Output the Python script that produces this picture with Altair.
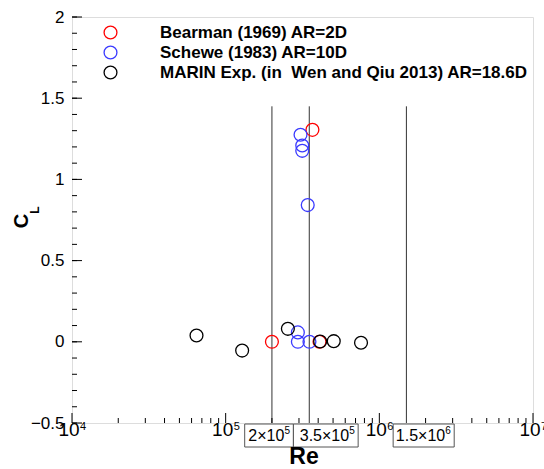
import altair as alt
import pandas as pd

# ---- data ----
series_names = ["Bearman (1969) AR=2D", "Schewe (1983) AR=10D",
                "MARIN Exp. (in\u00a0 Wen and Qiu 2013) AR=18.6D"]
series_colors = ["#ff0000", "#3a3aff", "#000000"]

bearman_re = [2.0e5, 3.67e5, 4.08e5]
bearman_cl = [0.0, 1.305, 0.0]
schewe_re = [3.07e5, 3.15e5, 3.15e5, 3.42e5, 2.95e5, 2.95e5, 3.51e5]
schewe_cl = [1.275, 1.209, 1.176, 0.842, 0.058, 0.0, 0.0]
marin_re = [6.46e4, 1.28e5, 2.54e5, 4.12e5, 5.05e5, 7.6e5]
marin_cl = [0.039, -0.054, 0.08, 0.002, 0.004, -0.006]

regime_re = [2e5, 3.5e5, 1.5e6]
regime_cl_lo = -0.5
regime_cl_hi = 1.45
box_base = ["2\u00d710", "3.5\u00d710", "1.5\u00d710"]
box_exp = ["5", "5", "6"]
box_lo = [1.33e5, 2.76e5, 1.23e6]
box_hi = [2.76e5, 7.28e5, 3.07e6]

x_major = [1e4, 1e5, 1e6, 1e7]
x_major_base = ["10", "10", "10", "10"]
x_major_exp = ["4", "5", "6", "7"]
x_minor = [m * 10 ** k for k in (4, 5, 6) for m in range(2, 10)]
y_major = [-0.5, 0.0, 0.5, 1.0, 1.5, 2.0]
y_minor = [round(-0.5 + 0.1 * i, 1) for i in range(26)]

W, H = 461, 406
FONT = "Liberation Sans"

pts = pd.DataFrame({
    "Re": bearman_re + schewe_re + marin_re,
    "CL": bearman_cl + schewe_cl + marin_cl,
    "src": [series_names[0]] * len(bearman_re) + [series_names[1]] * len(schewe_re)
           + [series_names[2]] * len(marin_re),
})
regimes = pd.DataFrame({"Re": regime_re, "lo": [regime_cl_lo] * 3, "hi": [regime_cl_hi] * 3})
boxes = pd.DataFrame({"lo": box_lo, "hi": box_hi, "base": box_base, "exp": box_exp})
xlab = pd.DataFrame({"v": x_major, "base": x_major_base, "exp": x_major_exp})

xscale = alt.Scale(type="log", domain=[1e4, 1e7], nice=False)
yscale = alt.Scale(domain=[-0.5, 2], nice=False, zero=False)

points = alt.Chart(pts).mark_point(filled=False, shape="circle", size=165, strokeWidth=1.3, opacity=1).encode(
    x=alt.X("Re:Q", scale=xscale, axis=alt.Axis(
        values=x_major, labels=False, ticks=False, domain=False, grid=False, title=None)),
    y=alt.Y("CL:Q", scale=yscale, axis=alt.Axis(
        values=y_major, format="~g", ticks=False, domain=False, grid=False,
        labelFont=FONT, labelFontSize=17, labelColor="black", labelPadding=8, title=None,
        labelFlush=False, labelOverlap=False)),
    color=alt.Color("src:N", scale=alt.Scale(domain=series_names, range=series_colors),
                    sort=series_names,
                    legend=alt.Legend(orient="none", legendX=30, legendY=7, title=None,
                                      labelFont=FONT, labelFontWeight="bold", labelFontSize=17,
                                      labelColor="black", symbolSize=165, symbolStrokeWidth=1.3,
                                      symbolType="circle", labelOffset=41, rowPadding=1,
                                      padding=0, labelLimit=500)),
)

vlines = alt.Chart(regimes).mark_rule(color="#333333", strokeWidth=1).encode(
    x=alt.X("Re:Q", scale=xscale), y=alt.Y("lo:Q", scale=yscale), y2="hi:Q")

rects = alt.Chart(boxes).mark_rect(fill="white", stroke="#555555", strokeWidth=1).encode(
    x=alt.X("lo:Q", scale=xscale), x2="hi:Q", y=alt.value(H + 1), y2=alt.value(H + 24))

box_base_t = alt.Chart(boxes).mark_text(
    font=FONT, fontSize=16, color="black", baseline="middle", align="right", dx=-9).encode(
    x=alt.X("hi:Q", scale=xscale), y=alt.value(H + 13), text="base:N")
box_exp_t = alt.Chart(boxes).mark_text(
    font=FONT, fontSize=10, color="black", baseline="top", align="left", dx=-9).encode(
    x=alt.X("hi:Q", scale=xscale), y=alt.value(H + 3), text="exp:N")

xlab_base = alt.Chart(xlab).mark_text(
    font=FONT, fontSize=19, color="black", baseline="top", align="center", dx=-3).encode(
    x=alt.X("v:Q", scale=xscale), y=alt.value(H - 2), text="base:N")
xlab_exp = alt.Chart(xlab).mark_text(
    font=FONT, fontSize=11, color="black", baseline="top", align="left", dx=8).encode(
    x=alt.X("v:Q", scale=xscale), y=alt.value(H - 2), text="exp:N")

xmaj = alt.Chart(pd.DataFrame({"v": x_major})).mark_rule(color="black", strokeWidth=1).encode(
    x=alt.X("v:Q", scale=xscale), y=alt.value(H), y2=alt.value(H - 10))
xmin = alt.Chart(pd.DataFrame({"v": x_minor})).mark_rule(color="black", strokeWidth=1).encode(
    x=alt.X("v:Q", scale=xscale), y=alt.value(H), y2=alt.value(H - 5))
ymaj = alt.Chart(pd.DataFrame({"v": y_major})).mark_rule(color="black", strokeWidth=1).encode(
    y=alt.Y("v:Q", scale=yscale), x=alt.value(0), x2=alt.value(10))
ymin = alt.Chart(pd.DataFrame({"v": y_minor})).mark_rule(color="black", strokeWidth=1).encode(
    y=alt.Y("v:Q", scale=yscale), x=alt.value(0), x2=alt.value(5))

re_title = alt.Chart(pd.DataFrame({"t": ["Re"]})).mark_text(
    font=FONT, fontSize=23, fontWeight="bold", color="black", align="center", baseline="middle").encode(
    text="t:N", x=alt.value(232), y=alt.value(H + 34))
c_title = alt.Chart(pd.DataFrame({"t": ["C"]})).mark_text(
    font=FONT, fontSize=20, fontWeight="bold", color="black", angle=270, align="center",
    baseline="middle").encode(text="t:N", x=alt.value(-50), y=alt.value(204))
l_title = alt.Chart(pd.DataFrame({"t": ["L"]})).mark_text(
    font=FONT, fontSize=12, fontWeight="bold", color="black", angle=270, align="center",
    baseline="middle").encode(text="t:N", x=alt.value(-37), y=alt.value(193))

chart = alt.layer(
    vlines, xmin, xmaj, ymin, ymaj, points, rects, box_base_t, box_exp_t,
    xlab_base, xlab_exp, re_title, c_title, l_title
).properties(
    width=W, height=H,
    autosize=alt.AutoSizeParams(type="none"),
    padding={"left": 72, "top": 17, "right": 11, "bottom": 46},
    background="white",
).configure_view(stroke="black", strokeWidth=1.5).configure(font=FONT)

chart.save("out.html", embed_options={"renderer": "svg", "actions": False})
